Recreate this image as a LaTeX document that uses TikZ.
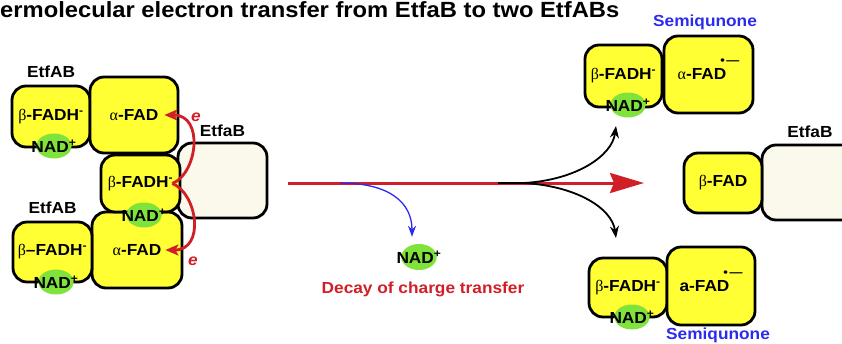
\documentclass[tikz,border=0pt]{standalone}
\usepackage{fontspec}
\setmainfont{Liberation Sans}[FakeStretch=1.08]
\newfontfamily\grkfont{Liberation Serif}
\usetikzlibrary{arrows.meta,positioning,shapes.geometric}
\definecolor{flavfill}{HTML}{FFFF33}
\definecolor{etfbfill}{HTML}{FBF9EC}
\definecolor{nadfill}{HTML}{80E33C}
\definecolor{ctred}{HTML}{D01F26}
\definecolor{semiblue}{HTML}{2B2BF0}
\newcommand{\galpha}{{\grkfont\mdseries α}}
\newcommand{\gbeta}{{\grkfont\mdseries β}}
\newcommand{\semirad}{\smash{\raisebox{15pt}{\fontsize{12}{12}\selectfont\kern-6pt\textbullet\kern1.5pt---}}}

\begin{document}
\begin{tikzpicture}[
  x=1pt, y=-1pt,
  font=\bfseries\fontsize{16}{19}\selectfont,
  flav/.style = {draw=black, line width=2.8pt, fill=flavfill, rounded corners=14pt, inner sep=0pt},
  etfb/.style = {draw=black, line width=2.8pt, fill=etfbfill, rounded corners=14pt, inner sep=0pt},
  nad/.style  = {ellipse, fill=nadfill, inner sep=-10pt, minimum width=32pt, minimum height=25pt},
  lbl/.style  = {inner sep=1pt},
  semi/.style = {lbl, text=semiblue},
  elbl/.style = {lbl, text=ctred, font=\bfseries\itshape\fontsize{16}{19}\selectfont},
  ttl/.style  = {inner sep=0pt, font=\bfseries\fontsize{22}{26}\selectfont},
  redln/.style  = {-{Stealth[length=34pt,width=20pt,inset=4pt]}, draw=ctred, line width=3pt},
  earr/.style   = {-{Stealth[length=13pt,width=11pt,inset=3pt]}, draw=ctred, line width=2.8pt},
  blkln/.style  = {-{Stealth[length=12pt,width=9pt]}, draw=black, line width=1.8pt},
  blueln/.style = {-{Stealth[length=11pt,width=8pt]}, draw=semiblue, line width=1.3pt},
]
\useasboundingbox (0,0) rectangle (842,343);

\node[ttl, anchor=base west] (title) at (0,17) {ermolecular electron transfer from EtfaB to two EtfABs};

% --- left: the donor EtfaB between the two EtfABs ---------------------------------------------
\node[flav, minimum width=78pt, minimum height=61pt] (btl)  at (51,116.5)  {\gbeta-FADH\textsuperscript{-}};
\node[flav, minimum width=88pt, minimum height=76pt] (atl)  at (134,115)   {\galpha-FAD};
\node[etfb, minimum width=89pt, minimum height=75pt] (etf)  at (222.5,180.5) {};
\node[flav, minimum width=90pt, minimum height=76pt] (abl)  at (137,250)   {\galpha-FAD};
\node[flav, minimum width=79pt, minimum height=57pt] (bmid) at (140.5,183.5) {\gbeta-FADH\textsuperscript{-}};
\node[flav, minimum width=79pt, minimum height=60pt] (bbl)  at (52.5,252)  {\gbeta--FADH\textsuperscript{-}};

\node[nad] (nadtl)  at (54,146) {NAD\textsuperscript{+}};
\node[nad] (nadmid) at (144,215) {NAD\textsuperscript{+}};
\node[nad] (nadbl)  at (56,282) {NAD\textsuperscript{+}};

\node[lbl, above=6pt of btl] (etfabtop) {EtfAB};
\node[lbl, above=6pt of bbl] (etfabbot) {EtfAB};
\node[lbl, above=4pt of etf] (etfalft)  {EtfaB};

% --- the two electrons out of the bifurcating FAD ----------------------------------------------
\draw[earr] ([xshift=-9pt]bmid.east) .. controls +(25,-10) and +(40,0) .. ([xshift=-15pt]atl.east);
\draw[earr] ([xshift=-9pt]bmid.east) .. controls +(25,10) and +(40,0) .. ([xshift=-18pt]abl.east);
\node[elbl] (eup) at (196,117) {e};
\node[elbl] (edn) at (193,261) {e};

% --- the reaction arrow, and the decay branch -------------------------------------------------
\coordinate (lnstart) at (288,183);
\coordinate (dcy)     at (340,183);
\coordinate (split)   at (498,183);
\coordinate (lnend)   at (644,183);
\draw[redln] (lnstart) -- (lnend);

\node[nad, minimum height=26pt] (nadfree) at (419,257) {NAD\textsuperscript{+}};
\draw[blueln] (dcy) .. controls +(50,0) and +(0,-34) .. ([xshift=-7pt,yshift=7pt]nadfree.north);
\node[lbl, text=ctred] (decay) at (423,289) {Decay of charge transfer};

\coordinate (uptip) at (616,126);
\coordinate (dntip) at (616,238);
\draw[blkln] (split) -- ++(26,0) .. controls +(52,-3) and +(-4,30) .. (uptip);
\draw[blkln] (split) -- ++(26,0) .. controls +(52,3) and +(-4,-30) .. (dntip);

% --- right: two semiquinone EtfABs and the oxidised EtfaB ---------------------------------------
\node[flav, minimum width=77pt, minimum height=62pt] (btr) at (623.5,76)  {\gbeta-FADH\textsuperscript{-}};
\node[flav, minimum width=89pt, minimum height=77pt] (atr) at (708.5,74.5) {\galpha-FAD\semirad};
\node[nad] (nadtr) at (628,105) {NAD\textsuperscript{+}};
\node[semi, anchor=base] (semitop) at (705,26) {Semiqunone};

\node[etfb, minimum width=104pt, minimum height=75pt] (etfr) at (814,182.5) {};
\node[flav, minimum width=78pt, minimum height=60pt] (bfad) at (723,183) {\gbeta-FAD};
\node[lbl, above=5pt of etfr, xshift=-4pt] (etfargt) {EtfaB};

\node[flav, minimum width=78pt, minimum height=59pt] (bbr) at (628,287.5) {\gbeta-FADH\textsuperscript{-}};
\node[flav, minimum width=88pt, minimum height=78pt] (abr) at (711,286)   {a-FAD\semirad};
\node[nad] (nadbr) at (632,317) {NAD\textsuperscript{+}};
\node[semi, anchor=base] (semibot) at (718,339.5) {Semiqunone};

\end{tikzpicture}
\end{document}
